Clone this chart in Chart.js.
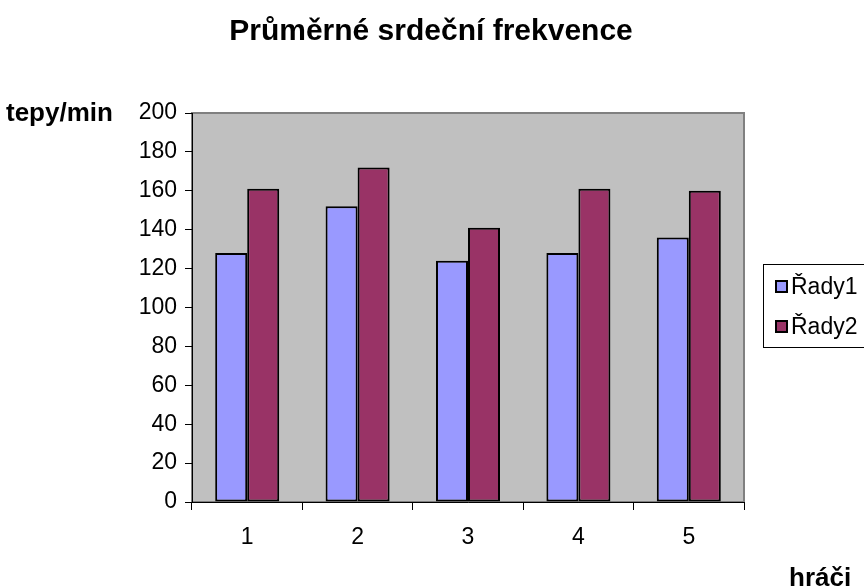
<!DOCTYPE html>
<html>
<head>
<meta charset="utf-8">
<script src="https://cdn.jsdelivr.net/npm/chart.js@4/dist/chart.umd.min.js"></script>
<style>
html,body{margin:0;padding:0;background:#fff;}
#wrap{width:864px;height:587px;position:relative;}
</style>
</head>
<body>
<div id="wrap"><canvas id="c" width="864" height="587"></canvas></div>
<script>
const categories = ['1', '2', '3', '4', '5'];
const seriesNames = ['Řady1', 'Řady2'];
const rady1 = [128, 152, 124, 128, 136];
const rady2 = [161, 172, 141, 161, 160];
const yTicks = [0, 20, 40, 60, 80, 100, 120, 140, 160, 180, 200];
const chartTitle = 'Průměrné srdeční frekvence';
const yTitle = 'tepy/min';
const xTitle = 'hráči';

const FONT = '"Liberation Sans", Arial, sans-serif';

const decor = {
  id: 'decor',
  beforeDraw(chart) {
    const ctx = chart.ctx, a = chart.chartArea;
    ctx.save();
    ctx.fillStyle = '#C0C0C0';
    ctx.fillRect(a.left, a.top, a.right - a.left, a.bottom - a.top);
    ctx.strokeStyle = '#808080';
    ctx.lineWidth = 2;
    ctx.strokeRect(a.left, a.top, a.right - a.left, a.bottom - a.top);
    ctx.restore();
  },
  afterDraw(chart) {
    const ctx = chart.ctx, a = chart.chartArea;
    ctx.save();
    ctx.fillStyle = '#000';
    ctx.textBaseline = 'alphabetic';
    // title
    ctx.font = 'bold 30px ' + FONT;
    ctx.textAlign = 'center';
    ctx.fillText(chartTitle, 431, 40);
    // y title
    ctx.font = 'bold 26px ' + FONT;
    ctx.textAlign = 'left';
    ctx.textBaseline = 'middle';
    ctx.fillText(yTitle, 6, a.top + 1);
    // x title
    ctx.textBaseline = 'alphabetic';
    ctx.fillText(xTitle, 789, 586);
    // legend
    const lx = 763, ly = 264, lh = 83;
    ctx.fillStyle = '#fff';
    ctx.fillRect(lx, ly, 110, lh);
    ctx.strokeStyle = '#000';
    ctx.lineWidth = 1;
    ctx.strokeRect(lx + 0.5, ly + 0.5, 110, lh);
    ctx.font = '23px ' + FONT;
    ctx.textBaseline = 'middle';
    chart.data.datasets.forEach((ds, i) => {
      const cy = 287 + i * 40;
      ctx.fillStyle = ds.backgroundColor;
      ctx.fillRect(776, cy - 6, 11, 11);
      ctx.strokeStyle = '#000';
      ctx.lineWidth = 2;
      ctx.strokeRect(776, cy - 6, 11, 11);
      ctx.fillStyle = '#000';
      ctx.fillText(ds.label, 791, cy + 1);
    });
    ctx.restore();
  }
};

new Chart(document.getElementById('c'), {
  type: 'bar',
  data: {
    labels: categories,
    datasets: [
      { label: seriesNames[0], data: rady1, backgroundColor: '#9999FF', borderColor: '#000', borderWidth: 2, borderSkipped: false },
      { label: seriesNames[1], data: rady2, backgroundColor: '#993366', borderColor: '#000', borderWidth: 2, borderSkipped: false }
    ]
  },
  options: {
    responsive: false,
    animation: false,
    events: [],
    layout: { padding: { top: 113, right: 120, left: 0, bottom: 0 } },
    datasets: { bar: { categoryPercentage: 0.58, barPercentage: 1 } },
    plugins: { legend: { display: false }, title: { display: false }, tooltip: { enabled: false } },
    scales: {
      x: {
        offset: true,
        grid: { offset: true, drawOnChartArea: false, color: '#000', tickLength: 8, lineWidth: 1 },
        border: { display: true, color: '#000', width: 1 },
        ticks: { color: '#000', font: { family: FONT, size: 23 }, padding: 14, maxRotation: 0 },
        afterFit(s) { s.height = 85; }
      },
      y: {
        min: 0, max: 200,
        afterBuildTicks(s) { s.ticks = yTicks.map(v => ({ value: v })); },
        grid: { drawOnChartArea: false, color: '#000', tickLength: 7, lineWidth: 1 },
        border: { display: true, color: '#000', width: 1 },
        ticks: { color: '#000', font: { family: FONT, size: 23 }, padding: 8 },
        afterFit(s) { s.width = 192; }
      }
    }
  },
  plugins: [decor]
});
</script>
</body>
</html>
